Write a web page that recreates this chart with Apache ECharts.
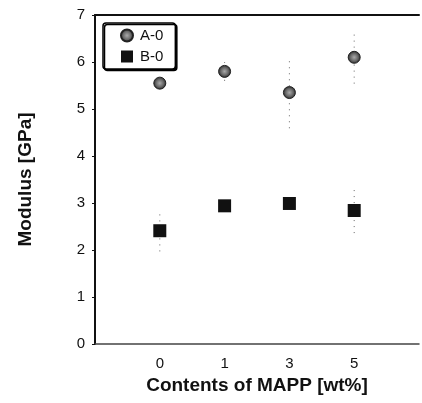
<!DOCTYPE html>
<html>
<head>
<meta charset="utf-8">
<script src="https://cdn.jsdelivr.net/npm/echarts@6/dist/echarts.min.js"></script>
<style>html,body{margin:0;padding:0;background:#fff}#c{width:422px;height:403px}</style>
</head>
<body>
<div id="c"></div>
<script>
var categories = ['', '0', '1', '3', '5', ''];
var seriesNames = ['A-0', 'B-0'];
var valuesA = [5.55, 5.80, 5.35, 6.10];
var valuesB = [2.41, 2.94, 2.99, 2.84];
var errA = [0, 0.2, 0.76, 0.56];
var errB = [0.44, 0, 0, 0.48];
var yTicks = [0, 1, 2, 3, 4, 5, 6, 7];

function pts(vals) { return vals.map(function (v, i) { return [i + 1, v]; }); }
function errPts(vals, errs) { return vals.map(function (v, i) { return [i + 1, v, errs[i]]; }); }

var errRender = function (params, api) {
  var x = api.value(0), y = api.value(1), e = api.value(2);
  if (!e) return null;
  var p1 = api.coord([x, y - e]), p2 = api.coord([x, y + e]);
  return {
    type: 'line',
    shape: { x1: p1[0], y1: p1[1], x2: p2[0], y2: p2[1] },
    style: { stroke: '#666', lineWidth: 1, lineDash: [1, 5] }
  };
};

var chart = echarts.init(document.getElementById('c'));
chart.setOption({
  animation: false,
  backgroundColor: '#fff',
  textStyle: { fontFamily: 'Liberation Sans, Arial, sans-serif' },
  grid: { left: 95, right: -4, top: 15, bottom: 59 },
  legend: {
    orient: 'vertical', left: 103, top: 23,
    data: seriesNames,
    itemWidth: 12, itemHeight: 12, itemGap: 6,
    padding: [5, 12, 5, 17],
    borderColor: '#000', borderWidth: 1.5, borderRadius: 3,
    backgroundColor: '#fff',
    shadowColor: '#000', shadowOffsetX: 1.5, shadowOffsetY: 1.5, shadowBlur: 0,
    textStyle: { fontSize: 15, color: '#111', fontFamily: 'Liberation Sans, Arial, sans-serif', padding: [0, 0, 0, 2] }
  },
  xAxis: [{
    type: 'category', data: categories, boundaryGap: false,
    name: 'Contents of MAPP [wt%]', nameLocation: 'middle', nameGap: 32,
    nameTextStyle: { fontSize: 19, fontWeight: 'bold', color: '#111' },
    axisLine: { lineStyle: { color: '#444', width: 1.5 } },
    axisTick: { show: false },
    axisLabel: { fontSize: 15, color: '#111', margin: 12, interval: 0 },
    splitLine: { show: false }
  }, {
    type: 'category', data: categories, boundaryGap: false, position: 'top',
    axisLine: { lineStyle: { color: '#111', width: 2 } },
    axisTick: { show: false }, axisLabel: { show: false }, splitLine: { show: false }
  }],
  yAxis: {
    type: 'value', min: yTicks[0], max: yTicks[yTicks.length - 1], interval: 1,
    name: 'Modulus [GPa]', nameLocation: 'middle', nameGap: 60,
    nameTextStyle: { fontSize: 19, fontWeight: 'bold', color: '#111' },
    axisLine: { show: true, lineStyle: { color: '#111', width: 2 } },
    axisTick: { show: true, length: 3, lineStyle: { color: '#111' } },
    axisLabel: { fontSize: 15, color: '#111', margin: 10 },
    splitLine: { show: false }
  },
  series: [{
    name: seriesNames[0], type: 'scatter', symbol: 'circle', symbolSize: 12, z: 3,
    itemStyle: {
      color: { type: 'radial', x: 0.5, y: 0.5, r: 0.5, colorStops: [{ offset: 0, color: '#aaa' }, { offset: 0.6, color: '#666' }, { offset: 1, color: '#222' }] },
      borderColor: '#222', borderWidth: 1, opacity: 1
    },
    data: pts(valuesA)
  }, {
    name: seriesNames[1], type: 'scatter', symbol: 'rect', symbolSize: 13, z: 3,
    itemStyle: { color: '#111', opacity: 1 },
    data: pts(valuesB)
  }, {
    name: 'errA', type: 'custom', renderItem: errRender, data: errPts(valuesA, errA), silent: true, z: 1
  }, {
    name: 'errB', type: 'custom', renderItem: errRender, data: errPts(valuesB, errB), silent: true, z: 1
  }]
});
</script>
</body>
</html>
